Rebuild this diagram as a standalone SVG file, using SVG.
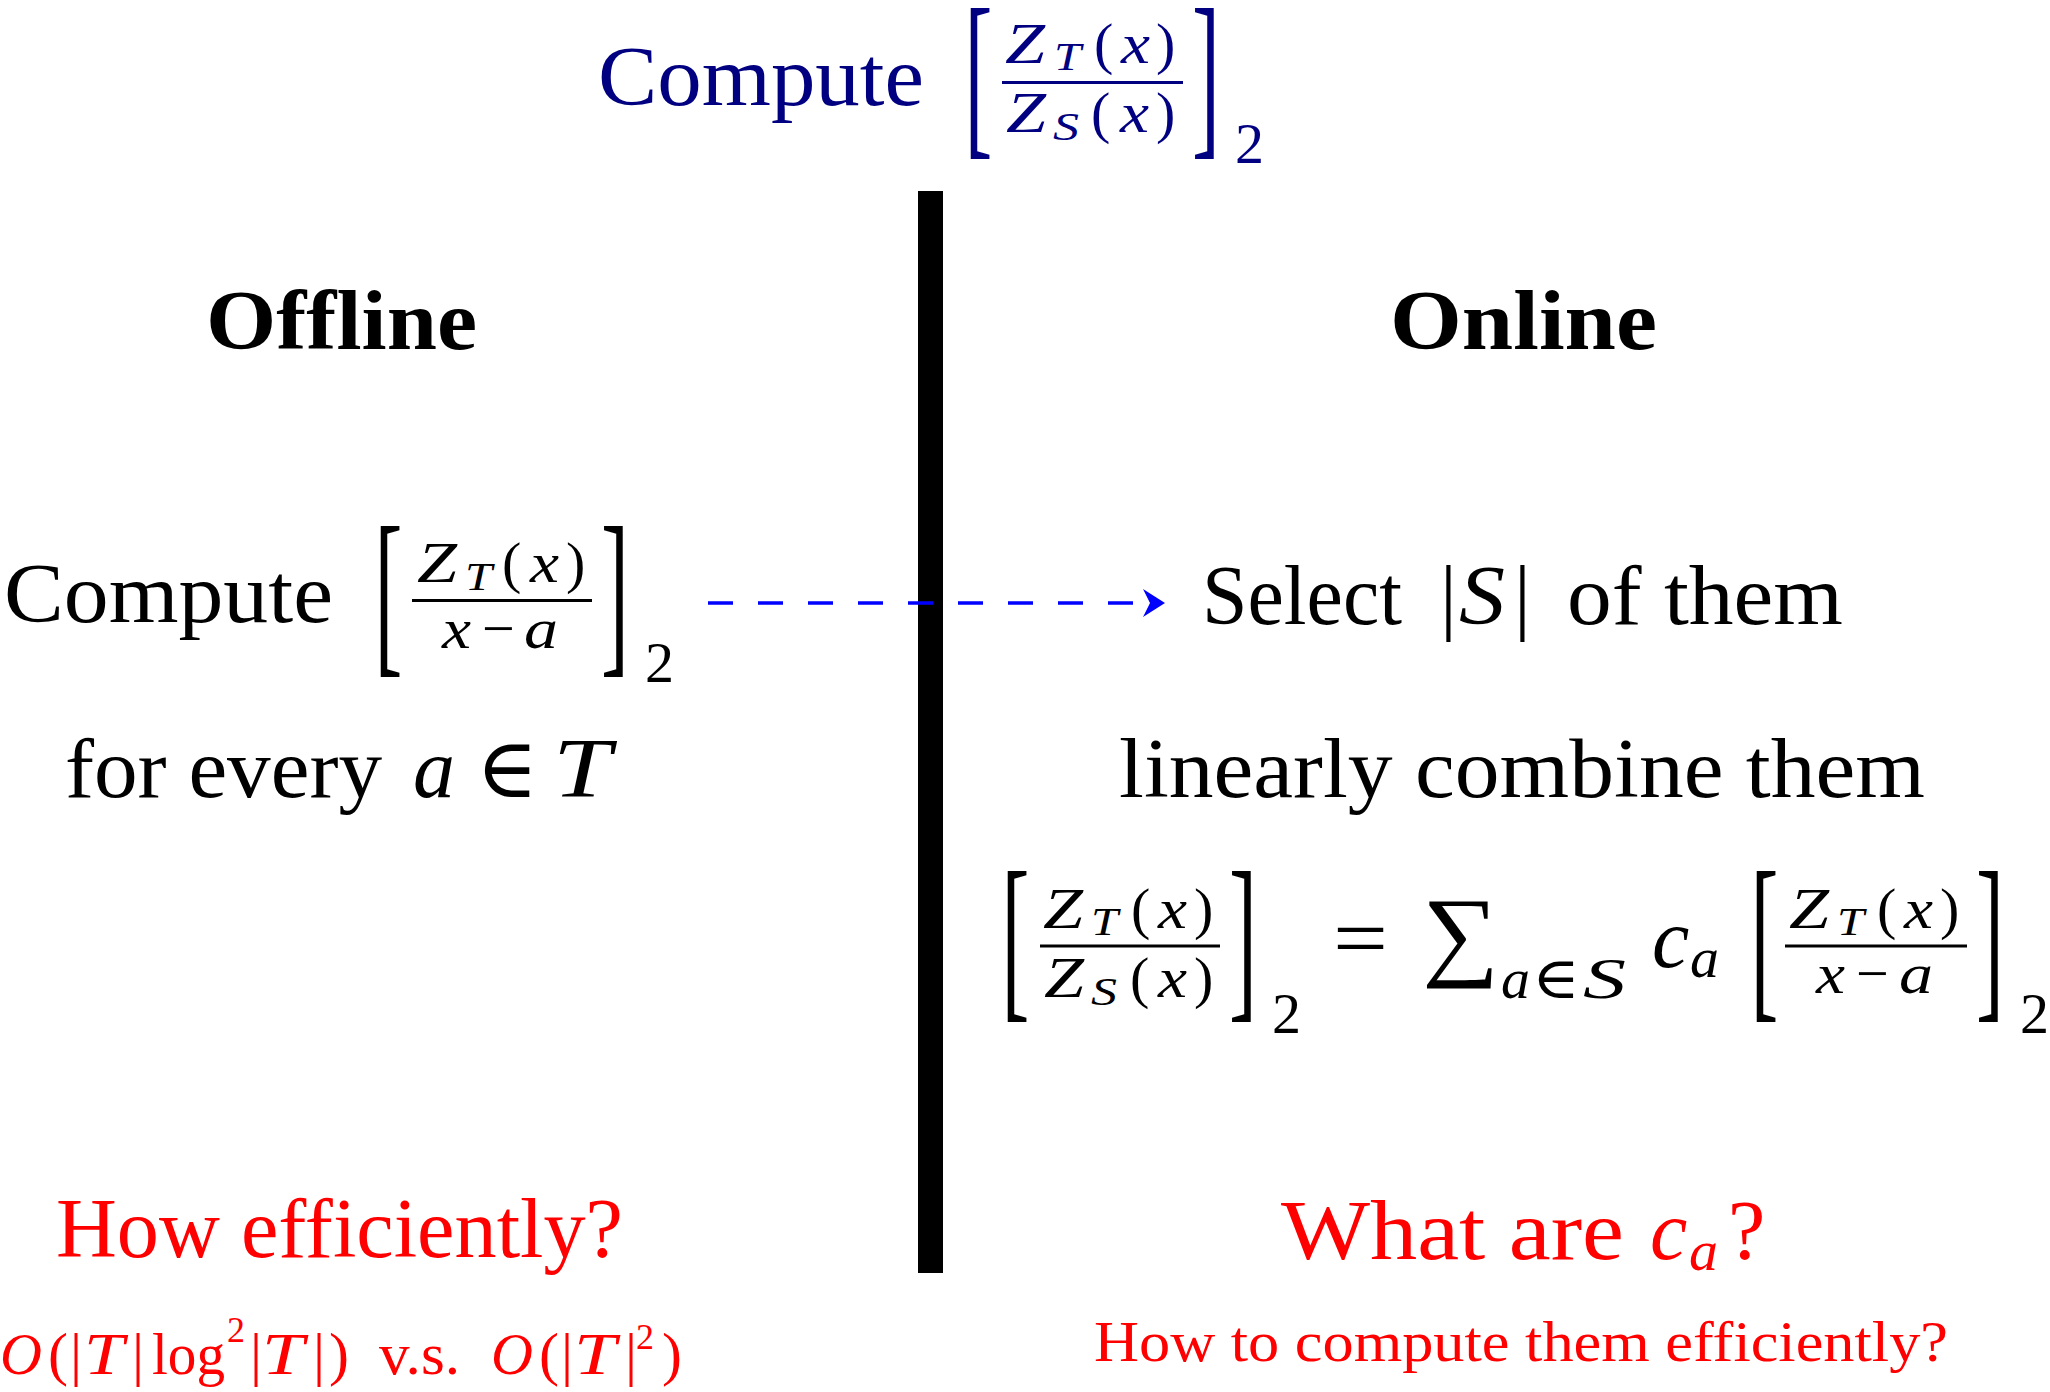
<svg xmlns="http://www.w3.org/2000/svg" width="2050" height="1392" viewBox="0 0 2050 1392">
<style>
text { font-family: "Liberation Serif", "DejaVu Serif", serif; }
.it { font-style: italic; }
.bf { font-weight: bold; }
.L { font-size: 84px; }
.M { font-size: 58px; }
.S { font-size: 41px; }
.C { font-size: 60px; }
.Cs { font-size: 36px; }
.navy { fill: #000080; }
.red { fill: #ff0000; }
.blk { fill: #000000; }
.br { font-size: 84px; }
.conn { stroke: #0000ff; stroke-width: 3.5; stroke-dasharray: 25 25; fill: none; }
</style>
<defs>
<marker id="stealth" markerUnits="userSpaceOnUse" viewBox="0 0 22 28" refX="7" refY="14" markerWidth="22" markerHeight="28" orient="auto">
<path d="M0,0 L22,14 L0,28 L7,14 z" fill="#0000ff"/>
</marker>
</defs>
<rect width="2050" height="1392" fill="#ffffff"/>

<g id="title" class="navy">
<text class="L" x="598" y="105" textLength="326" lengthAdjust="spacingAndGlyphs">Compute</text>
<text class="br" transform="translate(964.6,134.6) scale(1,2.17)">[</text>
<text class="M it" x="1005" y="63" textLength="40" lengthAdjust="spacingAndGlyphs">Z</text>
<text class="S it" x="1054" y="70" textLength="27" lengthAdjust="spacingAndGlyphs">T</text>
<text class="M" x="1094" y="63">(</text>
<text class="M it" x="1121" y="63" textLength="29" lengthAdjust="spacingAndGlyphs">x</text>
<text class="M" x="1156" y="63">)</text>
<rect x="1002" y="81" width="181" height="3"/>
<text class="M it" x="1006" y="132" textLength="40" lengthAdjust="spacingAndGlyphs">Z</text>
<text class="S it" x="1053" y="140" textLength="26" lengthAdjust="spacingAndGlyphs">S</text>
<text class="M" x="1091" y="132">(</text>
<text class="M it" x="1120" y="132" textLength="29" lengthAdjust="spacingAndGlyphs">x</text>
<text class="M" x="1156" y="132">)</text>
<text class="br" transform="translate(1192,134.6) scale(1,2.17)">]</text>
<text class="M" x="1235" y="163">2</text>
</g>

<g id="divider">
<rect x="918" y="191" width="25" height="1082" fill="#000000"/>
</g>

<g id="offline-heading" class="blk">
<text class="L bf" x="206" y="349" textLength="271" lengthAdjust="spacingAndGlyphs">Offline</text>
</g>
<g id="online-heading" class="blk">
<text class="L bf" x="1390" y="349" textLength="267" lengthAdjust="spacingAndGlyphs">Online</text>
</g>

<g id="offline-compute" class="blk">
<text class="L" x="4" y="622" textLength="329" lengthAdjust="spacingAndGlyphs">Compute</text>
<text class="br" transform="translate(374.6,652.6) scale(1,2.17)">[</text>
<text class="M it" x="417" y="582" textLength="40" lengthAdjust="spacingAndGlyphs">Z</text>
<text class="S it" x="465" y="590" textLength="27" lengthAdjust="spacingAndGlyphs">T</text>
<text class="M" x="502" y="582">(</text>
<text class="M it" x="530" y="582" textLength="29" lengthAdjust="spacingAndGlyphs">x</text>
<text class="M" x="566" y="582">)</text>
<rect x="412" y="599" width="180" height="3"/>
<text class="M it" x="442" y="648" textLength="29" lengthAdjust="spacingAndGlyphs">x</text>
<text class="M" x="482" y="648">−</text>
<text class="M it" x="524" y="648" textLength="34" lengthAdjust="spacingAndGlyphs">a</text>
<text class="br" transform="translate(601,652.6) scale(1,2.17)">]</text>
<text class="M" x="645" y="682">2</text>
</g>

<g id="offline-forevery" class="blk">
<text class="L" x="65" y="797" textLength="317" lengthAdjust="spacingAndGlyphs">for every</text>
<text class="L it" x="413" y="797">a</text>
<text class="L" x="476" y="797">∈</text>
<text class="L it" x="553" y="797" textLength="58" lengthAdjust="spacingAndGlyphs">T</text>
</g>

<g id="online-select" class="blk">
<text class="L" x="1202" y="624" textLength="200" lengthAdjust="spacingAndGlyphs">Select</text>
<text class="L" x="1440" y="624">|</text>
<text class="L it" x="1459" y="624" textLength="46" lengthAdjust="spacingAndGlyphs">S</text>
<text class="L" x="1514" y="624">|</text>
<text class="L" x="1567" y="624" textLength="276" lengthAdjust="spacingAndGlyphs">of them</text>
</g>

<g id="online-combine" class="blk">
<text class="L" x="1119" y="797" textLength="806" lengthAdjust="spacingAndGlyphs">linearly combine them</text>
</g>

<g id="online-equation" class="blk">
<text class="br" transform="translate(1001.6,997.6) scale(1,2.17)">[</text>
<text class="M it" x="1043" y="928" textLength="40" lengthAdjust="spacingAndGlyphs">Z</text>
<text class="S it" x="1091" y="935" textLength="27" lengthAdjust="spacingAndGlyphs">T</text>
<text class="M" x="1131" y="928">(</text>
<text class="M it" x="1158" y="928" textLength="29" lengthAdjust="spacingAndGlyphs">x</text>
<text class="M" x="1194" y="928">)</text>
<rect x="1040" y="944.5" width="180" height="3"/>
<text class="M it" x="1044" y="997" textLength="40" lengthAdjust="spacingAndGlyphs">Z</text>
<text class="S it" x="1091" y="1005" textLength="26" lengthAdjust="spacingAndGlyphs">S</text>
<text class="M" x="1130" y="997">(</text>
<text class="M it" x="1158" y="997" textLength="29" lengthAdjust="spacingAndGlyphs">x</text>
<text class="M" x="1194" y="997">)</text>
<text class="br" transform="translate(1229,997.6) scale(1,2.17)">]</text>
<text class="M" x="1272" y="1033">2</text>
<text class="L" x="1333" y="967" textLength="55" lengthAdjust="spacingAndGlyphs">=</text>
<text x="1422" y="967" style="font-size:100px" textLength="77" lengthAdjust="spacingAndGlyphs">∑</text>
<text class="M it" x="1501" y="998">a</text>
<text class="M" x="1532" y="998" textLength="48" lengthAdjust="spacingAndGlyphs">∈</text>
<text class="M it" x="1583" y="998" textLength="43" lengthAdjust="spacingAndGlyphs">S</text>
<text class="L it" x="1652" y="967">c</text>
<text class="M it" x="1690" y="977">a</text>
<text class="br" transform="translate(1750.6,997.6) scale(1,2.17)">[</text>
<text class="M it" x="1789" y="928" textLength="40" lengthAdjust="spacingAndGlyphs">Z</text>
<text class="S it" x="1837" y="935" textLength="27" lengthAdjust="spacingAndGlyphs">T</text>
<text class="M" x="1877" y="928">(</text>
<text class="M it" x="1904" y="928" textLength="29" lengthAdjust="spacingAndGlyphs">x</text>
<text class="M" x="1940" y="928">)</text>
<rect x="1785" y="944.5" width="182" height="3"/>
<text class="M it" x="1816" y="993" textLength="29" lengthAdjust="spacingAndGlyphs">x</text>
<text class="M" x="1856" y="993">−</text>
<text class="M it" x="1899" y="993" textLength="34" lengthAdjust="spacingAndGlyphs">a</text>
<text class="br" transform="translate(1976,997.6) scale(1,2.17)">]</text>
<text class="M" x="2020" y="1033">2</text>
</g>

<g id="offline-question" class="red">
<text class="L" x="56" y="1257" textLength="567" lengthAdjust="spacingAndGlyphs">How efficiently?</text>
</g>

<g id="offline-complexity" class="red">
<text class="C it" x="0" y="1374" textLength="42" lengthAdjust="spacingAndGlyphs">O</text>
<text class="C" x="48" y="1374">(</text>
<text class="C" x="70" y="1374">|</text>
<text class="C it" x="84" y="1374" textLength="40" lengthAdjust="spacingAndGlyphs">T</text>
<text class="C" x="132" y="1374">|</text>
<text class="C" x="152" y="1374" textLength="73" lengthAdjust="spacingAndGlyphs">log</text>
<text class="Cs" x="227" y="1342">2</text>
<text class="C" x="250" y="1374">|</text>
<text class="C it" x="262" y="1374" textLength="42" lengthAdjust="spacingAndGlyphs">T</text>
<text class="C" x="313" y="1374">|</text>
<text class="C" x="329" y="1374">)</text>
<text class="C" x="379" y="1374" textLength="81" lengthAdjust="spacingAndGlyphs">v.s.</text>
<text class="C it" x="491" y="1374" textLength="42" lengthAdjust="spacingAndGlyphs">O</text>
<text class="C" x="539" y="1374">(</text>
<text class="C" x="561" y="1374">|</text>
<text class="C it" x="574" y="1374" textLength="42" lengthAdjust="spacingAndGlyphs">T</text>
<text class="C" x="625" y="1374">|</text>
<text class="Cs" x="636" y="1349">2</text>
<text class="C" x="662" y="1374">)</text>
</g>

<g id="online-question" class="red">
<text class="L" x="1281" y="1259" textLength="343" lengthAdjust="spacingAndGlyphs">What are</text>
<text class="L it" x="1650" y="1259">c</text>
<text class="M it" x="1689" y="1270">a</text>
<text class="L" x="1728" y="1259">?</text>
</g>

<g id="online-subquestion" class="red">
<text x="1094" y="1361" style="font-size:56px" textLength="854" lengthAdjust="spacingAndGlyphs">How to compute them efficiently?</text>
</g>

<g id="connectors">
<line class="conn" x1="708" y1="603" x2="1150" y2="603" marker-end="url(#stealth)"/>
</g>
</svg>
